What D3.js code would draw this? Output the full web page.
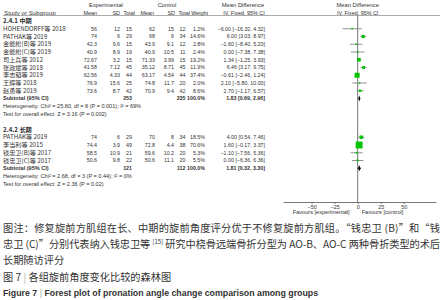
<html>
<head>
<meta charset="utf-8">
<style>
    body { margin: 0; background: #fff; }
    text { font-family: "Liberation Sans", Arial, sans-serif; fill: #333; }
    .cn { font-family: "Noto Sans CJK SC", sans-serif; }
</style>
<script src="https://cdnjs.cloudflare.com/ajax/libs/d3/7.8.5/d3.min.js"></script>
</head>
<body>
<script>
var width = 442;
var height = 300;

// 2.4.1 中期
var names1 = ["HOHENDORFF等 2018", "PATHAK等 2019", "金能松(B)等 2019", "金能松(C)等 2019", "司上兵等 2012", "张政斌等 2018", "李志韬等 2019", "王辉等 2018", "赵勇等 2019"];
var expMean1 = [56, 74, 42.3, 40.9, 72.67, 41.58, 62.56, 76.9, 73.6];
var expSD1 = [12, 6, 9.6, 8.9, 3.2, 7.12, 4.33, 15.6, 8.7];
var expN1 = [15, 29, 15, 19, 15, 45, 44, 25, 42];
var ctlMean1 = [62, 68, 43.9, 40.9, 71.33, 35.12, 63.17, 74.8, 70.9];
var ctlSD1 = [15, 6, 9.1, 10.5, 3.99, 8.71, 4.54, 11.7, 9.4];
var ctlN1 = [12, 34, 12, 11, 15, 45, 44, 20, 42];
var weight1 = [1.2, 14.6, 2.8, 2.4, 19.2, 11.9, 37.4, 2.0, 8.6];
var md1 = [-6.00, 6.00, -1.60, 0.00, 1.34, 6.46, -0.61, 2.10, 2.70];
var lo1 = [-16.32, 3.03, -8.40, -7.38, -1.25, 3.17, -2.46, -5.80, -1.17];
var hi1 = [4.32, 8.97, 5.20, 7.38, 3.93, 9.75, 1.24, 10.00, 6.57];
var subN1 = [253, 235];
var subMD1 = [1.83, 0.69, 2.96];
var het1 = "Heterogeneity: Chi² = 25.80, df = 8 (P = 0.001); I² = 69%";
var test1 = "Test for overall effect: Z = 3.16 (P = 0.002)";

// 2.4.2 长期
var names2 = ["PATHAK等 2019", "李当利等 2015", "钱忠卫(B)等 2017", "钱忠卫(C)等 2017"];
var expMean2 = [74, 74.4, 58.5, 50.6];
var expSD2 = [6, 3.9, 10.9, 9.8];
var expN2 = [29, 49, 21, 22];
var ctlMean2 = [70, 72.8, 59.6, 50.6];
var ctlSD2 = [8, 4.4, 10.2, 11.1];
var ctlN2 = [34, 38, 20, 20];
var weight2 = [18.5, 70.6, 5.3, 5.5];
var md2 = [4.00, 1.60, -1.10, 0.00];
var lo2 = [0.54, -0.17, -7.56, -6.36];
var hi2 = [7.46, 3.37, 5.36, 6.36];
var subN2 = [121, 112];
var subMD2 = [1.81, 0.32, 3.30];
var het2 = "Heterogeneity: Chi² = 2.68, df = 3 (P = 0.44); I² = 0%";
var test2 = "Test for overall effect: Z = 2.36 (P = 0.02)";

var axisTicks = [-50, -25, 0, 25, 50];

function buildGroup(title, names, em, es, en, cm, cs, cn, w, md, lo, hi, subN, subMD, het, test) {
    return {
        title: title,
        studies: names.map((n, i) => ({
            name: n, em: em[i], es: es[i], en: en[i], cm: cm[i], cs: cs[i], cn: cn[i],
            w: w[i], md: md[i], lo: lo[i], hi: hi[i]
        })),
        subN: subN, subMD: subMD, het: het, test: test
    };
}

var groups = [
    buildGroup("2.4.1 中期", names1, expMean1, expSD1, expN1, ctlMean1, ctlSD1, ctlN1, weight1, md1, lo1, hi1, subN1, subMD1, het1, test1),
    buildGroup("2.4.2 长期", names2, expMean2, expSD2, expN2, ctlMean2, ctlSD2, ctlN2, weight2, md2, lo2, hi2, subN2, subMD2, het2, test2)
];

var svg = d3.select("body").append("svg")
    .attr("width", width)
    .attr("height", height);

var fsName = 6.2;   // study names
var fsHead = 5.4;   // column headers
var fsNum = 5.3;    // numbers
var fsNote = 5.55;  // heterogeneity / test lines

var f2 = d3.format(".2f");
var ciText = (m, l, h) => f2(m) + " [" + f2(l) + ", " + f2(h) + "]";

var x = d3.scaleLinear().domain([-81, 85]).range([283, 436]);
var boxSize = d3.scaleSqrt().domain([0, 100]).range([0, 8.2]);

var rowY = i => 21 + i * 7.75;
var axisY = 202;

// column right edges
var cols = {em: 97, es: 120, en: 132, cm: 155, cs: 174, cn: 185.5, w: 205, ci: 265};

function txt(g, x0, y, s, size, anchor, bold, cls) {
    return g.append("text")
        .attr("x", x0)
        .attr("y", y + size * 0.36)
        .attr("font-size", size)
        .attr("text-anchor", anchor || "start")
        .attr("font-weight", bold ? "bold" : null)
        .attr("class", cls || null)
        .text(s);
}

// headers
var head = svg.append("g");
txt(head, 106, 5, "Experimental", 5.8, "middle");
txt(head, 167, 5, "Control", 5.8, "middle");
txt(head, 243, 5, "Mean Difference", 5.8, "middle");
txt(head, x(0), 5, "Mean Difference", 5.8, "middle");
txt(head, 4, 13, "Study or Subgroup", 6.2);
txt(head, cols.em, 13, "Mean", fsHead, "end");
txt(head, cols.es, 13, "SD", fsHead, "end");
txt(head, 135, 13, "Total", fsHead, "end");
txt(head, 154, 13, "Mean", fsHead, "end");
txt(head, 175, 13, "SD", fsHead, "end");
txt(head, 190, 13, "Total", fsHead, "end");
txt(head, 208, 13, "Weight", fsHead, "end");
txt(head, 244, 13, "IV, Fixed, 95% CI", fsHead, "middle");
txt(head, x(0), 13, "IV, Fixed, 95% CI", fsHead, "middle");

head.append("line")
    .attr("x1", 3).attr("x2", 440)
    .attr("y1", 15.5).attr("y2", 15.5)
    .attr("stroke", "#888").attr("stroke-width", 0.7);

// zero line
svg.append("line")
    .attr("x1", x(0)).attr("x2", x(0))
    .attr("y1", 15.5).attr("y2", axisY)
    .attr("stroke", "#555").attr("stroke-width", 0.8);

var body = svg.append("g");
var row = 0;
groups.forEach(function (grp) {
    txt(body, 3, rowY(row), grp.title, fsName, "start", true, "cn");
    row++;
    grp.studies.forEach(function (s) {
        var y = rowY(row);
        txt(body, 3, y, s.name, fsName, "start", false, "cn").attr("fill", "#444");
        txt(body, cols.em, y, String(s.em), fsNum, "end");
        txt(body, cols.es, y, String(s.es), fsNum, "end");
        txt(body, cols.en, y, String(s.en), fsNum, "end");
        txt(body, cols.cm, y, String(s.cm), fsNum, "end");
        txt(body, cols.cs, y, String(s.cs), fsNum, "end");
        txt(body, cols.cn, y, String(s.cn), fsNum, "end");
        txt(body, cols.w, y, s.w.toFixed(1) + "%", fsNum, "end");
        txt(body, cols.ci, y, ciText(s.md, s.lo, s.hi), fsNum, "end");

        body.append("line")
            .attr("x1", x(s.lo)).attr("x2", x(s.hi))
            .attr("y1", y).attr("y2", y)
            .attr("stroke", "#777").attr("stroke-width", 0.8);
        var b = Math.max(1.6, boxSize(s.w));
        body.append("rect")
            .attr("x", x(s.md) - b / 2).attr("y", y - b / 2)
            .attr("width", b).attr("height", b)
            .attr("fill", "#00c400");
        row++;
    });
    var ys = rowY(row);
    txt(body, 3, ys, "Subtotal (95% CI)", fsNote, "start", true);
    txt(body, cols.en, ys, String(grp.subN[0]), fsNum, "end", true);
    txt(body, cols.cn, ys, String(grp.subN[1]), fsNum, "end", true);
    txt(body, cols.w, ys, "100.0%", fsNum, "end", true);
    txt(body, cols.ci, ys, ciText(grp.subMD[0], grp.subMD[1], grp.subMD[2]), fsNum, "end", true);
    var d = grp.subMD;
    body.append("path")
        .attr("d", "M" + x(d[1]) + "," + ys + "L" + x(d[0]) + "," + (ys - 3) +
            "L" + x(d[2]) + "," + ys + "L" + x(d[0]) + "," + (ys + 3) + "Z")
        .attr("fill", "#000");
    row++;
    txt(body, 3, rowY(row), grp.het, fsNote);
    row++;
    txt(body, 3, rowY(row), grp.test, fsNote);
    row += 2;
});

// axis
var axis = svg.append("g")
    .attr("transform", "translate(0," + axisY + ")")
    .call(d3.axisBottom(x).tickValues(axisTicks).tickSize(2).tickSizeOuter(0).tickPadding(1.5));
axis.select(".domain").attr("stroke", "#555").attr("stroke-width", 0.8);
axis.selectAll(".tick line").attr("stroke", "#555").attr("stroke-width", 0.7);
axis.selectAll(".tick text").attr("font-size", 5.4).attr("fill", "#333")
    .attr("font-family", "Liberation Sans, Arial, sans-serif");

txt(svg, x(0) - 8, 212, "Favours [experimental]", 5.6, "end");
txt(svg, x(0) + 4, 212, "Favours [control]", 5.6, "start");

// caption
var cap = svg.append("g");
cap.append("text").attr("class", "cn").attr("x", 3).attr("y", 232)
    .attr("font-size", 10.2).attr("fill", "#555")
    .attr("textLength", 437).attr("lengthAdjust", "spacing")
    .text("图注：修复旋前方肌组在长、中期的旋前角度评分优于不修复旋前方肌组。“钱忠卫 (B)”和“钱");
var c2 = cap.append("text").attr("class", "cn").attr("x", 3).attr("y", 248)
    .attr("font-size", 10.2).attr("fill", "#555")
    .attr("textLength", 437).attr("lengthAdjust", "spacing");
c2.append("tspan").text("忠卫 (C)”分别代表纳入钱忠卫等 ");
c2.append("tspan").attr("font-size", 6).attr("dy", -4).text("[15]");
c2.append("tspan").attr("dy", 4).text(" 研究中桡骨远端骨折分型为 AO-B、AO-C 两种骨折类型的术后");
cap.append("text").attr("class", "cn").attr("x", 3).attr("y", 264)
    .attr("font-size", 10.2).attr("fill", "#555")
    .text("长期随访评分");

var c4 = cap.append("text").attr("class", "cn").attr("x", 3).attr("y", 281)
    .attr("font-size", 10.2).attr("fill", "#444");
c4.append("tspan").text("图 7 ");
c4.append("tspan").attr("fill", "#aaa").text("|");
c4.append("tspan").text(" 各组旋前角度变化比较的森林图");

var c5 = svg.append("text").attr("x", 3).attr("y", 296)
    .attr("font-size", 8.8).attr("font-weight", "bold").attr("fill", "#444")
    .attr("font-family", "Open Sans, sans-serif");
c5.append("tspan").text("Figure 7  ");
c5.append("tspan").attr("fill", "#aaa").attr("font-weight", "normal").text("|");
c5.append("tspan").text("  Forest plot of pronation angle change comparison among groups");
</script>
</body>
</html>
